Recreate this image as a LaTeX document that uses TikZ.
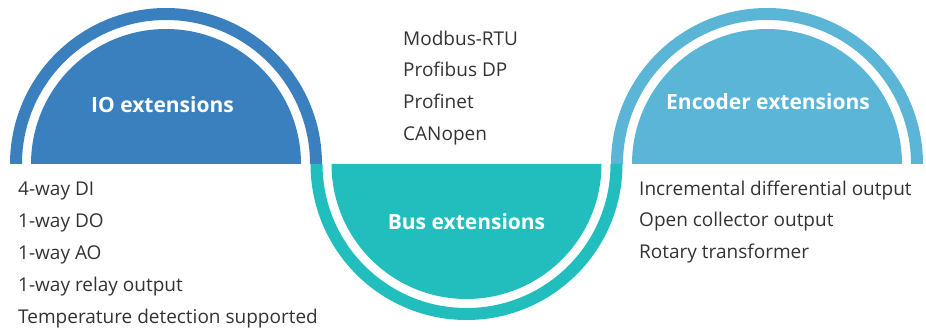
\documentclass[tikz,border=0pt]{standalone}
\usepackage{fontspec}
\setmainfont{Open Sans}
\definecolor{ioblue}{HTML}{3A80BF}
\definecolor{busteal}{HTML}{22BEBE}
\definecolor{encblue}{HTML}{5AB5D6}
\definecolor{txtgray}{HTML}{333333}
\begin{document}
\begin{tikzpicture}[x=1pt,y=1pt,
  item/.style={anchor=base west,inner sep=0pt,text=txtgray,font=\fontsize{19}{22}\selectfont},
  title/.style={anchor=base,inner sep=0pt,text=white,font=\bfseries\fontsize{21}{25}\selectfont}]
\useasboundingbox (0,0) rectangle (926,329);
% centers
\coordinate (cio) at (166,165);
\coordinate (cbus) at (466.5,165);
\coordinate (cenc) at (767,165);
% IO
\fill[ioblue] (cio) ++(180:156) arc[start angle=180,end angle=0,radius=156] -- ++(-12,0) arc[start angle=0,end angle=180,radius=144] -- cycle;
\fill[ioblue] (cio) ++(180:135) arc[start angle=180,end angle=0,radius=135] -- cycle;
% Encoder
\fill[encblue] (cenc) ++(180:156) arc[start angle=180,end angle=0,radius=156] -- ++(-12,0) arc[start angle=0,end angle=180,radius=144] -- cycle;
\fill[encblue] (cenc) ++(180:135) arc[start angle=180,end angle=0,radius=135] -- cycle;
% Bus
\fill[busteal] (cbus) ++(180:156) arc[start angle=180,end angle=360,radius=156] -- ++(-12,0) arc[start angle=360,end angle=180,radius=144] -- cycle;
\fill[busteal] (cbus) ++(180:135) arc[start angle=180,end angle=360,radius=135] -- cycle;
% titles
\node[title] (tio) at (162.5,216) {IO extensions};
\node[title] (tbus) at (466.5,99) {Bus extensions};
\node[title] (tenc) at (768,219) {Encoder extensions};
% left list
\node[item] (l1) at (18,133) {4-way DI};
\node[item] (l2) at (18,101) {1-way DO};
\node[item] (l3) at (18,69) {1-way AO};
\node[item] (l4) at (18,37) {1-way relay output};
\node[item] (l5) at (18,5) {Temperature detection supported};
% top list
\node[item] (b1) at (403,283) {Modbus-RTU};
\node[item] (b2) at (403,252) {Profibus DP};
\node[item] (b3) at (403,220) {Profinet};
\node[item] (b4) at (403,188) {CANopen};
% right list
\node[item] (r1) at (639,133) {Incremental differential output};
\node[item] (r2) at (639,102) {Open collector output};
\node[item] (r3) at (639,70) {Rotary transformer};
\end{tikzpicture}
\end{document}
